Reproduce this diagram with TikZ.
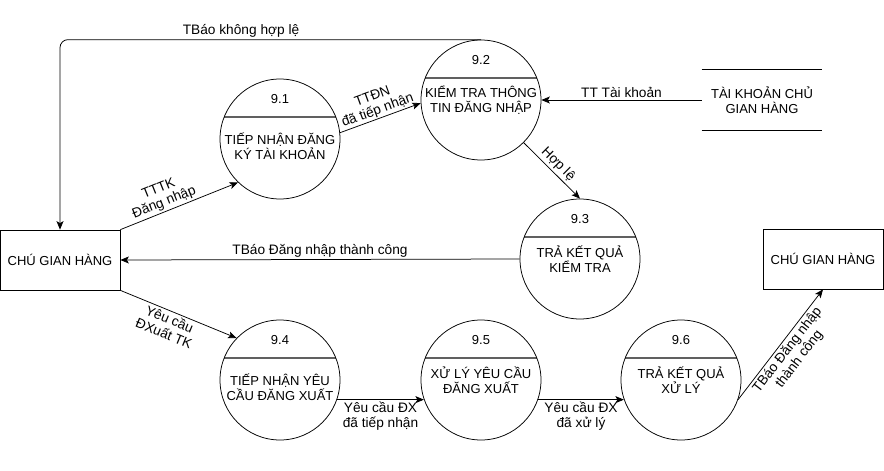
\documentclass[tikz,border=0pt]{standalone}
\usepackage{fontspec}
\setmainfont{Liberation Sans}
\usetikzlibrary{arrows.meta,positioning}

\begin{document}
\begin{tikzpicture}[x=1pt,y=-1pt,->,>={Stealth[length=8.5pt,width=7pt,inset=2pt]},line width=0.75pt,font=\fontsize{13}{15}\selectfont]
\tikzstyle{process}=[circle,draw,minimum size=120pt,inner sep=0pt,path picture={\draw[-,gray!75!black,line width=1.4pt] ([yshift=-38pt]path picture bounding box.north west) -- ([yshift=-38pt]path picture bounding box.north east);}]
\tikzstyle{entity}=[rectangle,draw,minimum width=120pt,minimum height=60pt]
\tikzstyle{store}=[minimum width=120pt,minimum height=60pt,align=center]
\tikzstyle{num}=[yshift=40pt]
\tikzstyle{title}=[align=center]
\tikzstyle{flow}=[align=center,inner sep=2pt,font=\fontsize{13.7}{15}\selectfont]

\useasboundingbox (0,0) rectangle (884,471);

\node[entity]		(A) at (60,260)       {CHÚ GIAN HÀNG};
\node[process]		(B) at (280,139) [label={[num]center:9.1},label={[title,yshift=-7.5pt]center:TIẾP NHẬN ĐĂNG\\KÝ TÀI KHOẢN}] {};
\node[process]		(F) [below of=B,node distance=241pt,label={[num]center:9.4},label={[title,yshift=-7.5pt]center:TIẾP NHẬN YÊU\\CẦU ĐĂNG XUẤT}] {};
\node[process]		(G) [right of=F,node distance=201pt,label={[num]center:9.5},label={[title]center:XỬ LÝ YÊU CẦU\\ĐĂNG XUẤT}] {};
\node[process]		(H) [right of=G,node distance=200pt,label={[num]center:9.6},label={[title]center:TRẢ KẾT QUẢ\\XỬ LÝ}] {};
\node[process]		(C) [above of=G,node distance=280pt,label={[num]center:9.2},label={[title]center:KIỂM TRA THÔNG\\TIN ĐĂNG NHẬP}] {};
\node[process]		(E) at (580,259) [label={[num]center:9.3},label={[title]center:TRẢ KẾT QUẢ\\KIỂM TRA}] {};
\node[store]		(D) [right of=C,node distance=281pt] {TÀI KHOẢN CHỦ\\GIAN HÀNG};
\node[entity]		(I) [right of=E,node distance=243pt] {CHÚ GIAN HÀNG};

\draw[-] (D.north west) -- (D.north east) (D.south west) -- (D.south east);

\path
(A.north east) edge node[flow,sloped,above,pos=0.4] {TTTK\\Đăng nhập} (B.226)
(B.6) edge node[flow,sloped,above,inner sep=1pt] {TTĐN\\đã tiếp nhận} (C.183)
(D.west) edge node[flow,above] {TT Tài khoản} (C.east)
(C.315) edge node[flow,sloped,above] {Hợp lệ} (E.north)
(E.west) edge node[flow,above] {TBáo Đăng nhập thành công} (A.east)
(A.south east) edge node[flow,sloped,below,pos=0.45] {Yêu cầu\\ĐXuất TK} (F.136)
(F.-19) edge node[flow,below] {Yêu cầu ĐX\\đã tiếp nhận} (G.199)
(G.-19) edge node[flow,below] {Yêu cầu ĐX\\đã xử lý} (H.199)
(H.-19) edge node[flow,sloped,below] {TBáo Đăng nhập\\thành công} (I.south)
;
\draw[rounded corners=8pt] (C.north) -| node[flow,above,pos=0.285] {TBáo không hợp lệ} (A.north);
\end{tikzpicture}
\end{document}
